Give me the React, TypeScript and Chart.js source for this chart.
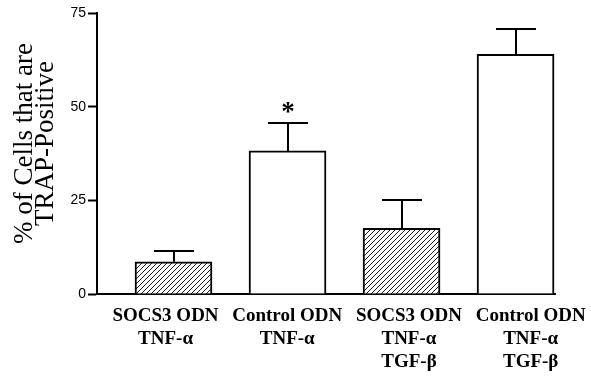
import React, { useEffect, useRef } from 'react';
import { Chart, registerables } from 'chart.js';

Chart.register(...registerables);

// ---- data ----
const categoryLabels: string[][] = [
  ['SOCS3 ODN', 'TNF-α'],
  ['Control ODN', 'TNF-α'],
  ['SOCS3 ODN', 'TNF-α', 'TGF-β'],
  ['Control ODN', 'TNF-α', 'TGF-β'],
];
const means = [8.6, 38.2, 17.5, 64.0];
const errors = [2.8, 7.4, 7.6, 6.6];
const hatched = [true, false, true, false];
const significant = [false, true, false, false];
const yTicks = [0, 25, 50, 75];
const yTitleLines = ['% of Cells that are', 'TRAP-Positive'];

export default function App() {
  const ref = useRef<HTMLCanvasElement | null>(null);

  useEffect(() => {
    const canvas = ref.current!;
    const ctx = canvas.getContext('2d')!;

    const tile = document.createElement('canvas');
    tile.width = 5;
    tile.height = 5;
    const tg = tile.getContext('2d')!;
    tg.fillStyle = '#fff';
    tg.fillRect(0, 0, 5, 5);
    tg.fillStyle = '#1a1a1a';
    for (let i = 0; i < 5; i++) tg.fillRect(i, 4 - i, 1, 1);
    const hatch = ctx.createPattern(tile, 'repeat')!;

    const errorPlugin = {
      id: 'errorBars',
      afterDatasetsDraw(chart: any) {
        const meta = chart.getDatasetMeta(0);
        const y = chart.scales.y;
        const c = chart.ctx;
        c.save();
        c.strokeStyle = '#000';
        c.fillStyle = '#000';
        c.lineWidth = 2;
        meta.data.forEach((bar: any, i: number) => {
          const top = Math.round(y.getPixelForValue(means[i] + errors[i]));
          const x = Math.round(bar.x);
          c.beginPath();
          c.moveTo(x, bar.y);
          c.lineTo(x, top);
          c.moveTo(x - 20, top);
          c.lineTo(x + 20, top);
          c.stroke();
          if (significant[i]) {
            c.font = 'bold 27px "Liberation Serif"';
            c.textAlign = 'center';
            c.textBaseline = 'alphabetic';
            const m = c.measureText('*');
            const cy = top - 15.5;
            const base = cy + (m.actualBoundingBoxAscent - m.actualBoundingBoxDescent) / 2;
            c.fillText('*', x, base);
          }
        });
        c.restore();
      },
    };

    const titlePlugin = {
      id: 'yTitle',
      afterDraw(chart: any) {
        const { chartArea } = chart;
        const c = chart.ctx;
        c.save();
        c.font = '27px "Liberation Serif"';
        c.fillStyle = '#000';
        c.textAlign = 'center';
        c.textBaseline = 'alphabetic';
        const cy = (chartArea.top + chartArea.bottom) / 2 - 10;
        const xs = [chartArea.left - 65, chartArea.left - 44];
        yTitleLines.forEach((line, i) => {
          c.save();
          c.translate(xs[i], cy);
          c.rotate(-Math.PI / 2);
          c.fillText(line, 0, 0);
          c.restore();
        });
        c.restore();
      },
    };

    const chart = new Chart(ctx, {
      type: 'bar',
      data: {
        datasets: [
          {
            data: means.map((v, i) => ({ x: i, y: v })),
            backgroundColor: hatched.map((h) => (h ? hatch : '#ffffff')),
            borderColor: '#000',
            borderWidth: 2,
            borderSkipped: 'start',
            barThickness: 77,
          } as any,
        ],
      },
      options: {
        animation: false,
        responsive: false,
        devicePixelRatio: 1,
        layout: { padding: { top: 13, right: 36, left: 0, bottom: 0 } },
        plugins: { legend: { display: false }, tooltip: { enabled: false } },
        scales: {
          x: {
            type: 'linear',
            min: -0.671,
            max: 3.346,
            bounds: 'data',
            offset: false,
            afterBuildTicks: (scale: any) => {
              scale.ticks = categoryLabels.map((_, i) => ({ value: -0.07 + i * 1.0675 }));
            },
            afterFit: (scale: any) => {
              scale.height = 83;
            },
            grid: { display: false, offset: false },
            border: { display: true, color: '#000', width: 2 },
            ticks: {
              autoSkip: false,
              maxRotation: 0,
              minRotation: 0,
              padding: 3,
              color: '#000',
              font: { family: '"Liberation Serif"', size: 19, weight: 'bold', lineHeight: 1.2 },
              callback: (_v: any, index: number) => categoryLabels[index],
            },
          },
          y: {
            min: 0,
            max: 75,
            afterBuildTicks: (scale: any) => {
              scale.ticks = yTicks.map((v) => ({ value: v }));
            },
            afterFit: (scale: any) => {
              scale.width = 97;
            },
            grid: {
              display: true,
              drawOnChartArea: false,
              drawTicks: true,
              tickLength: 9,
              tickWidth: 2,
              tickColor: '#000',
            },
            border: { display: true, color: '#000', width: 2 },
            ticks: {
              padding: 2,
              color: '#000',
              font: { family: '"Liberation Sans"', size: 14 },
            },
          },
        },
      } as any,
      plugins: [errorPlugin, titlePlugin],
    });

    return () => chart.destroy();
  }, []);

  return (
    <div style={{ position: 'fixed', left: 0, top: 0, width: 591, height: 377, background: '#fff' }}>
      <canvas ref={ref} width={591} height={377} style={{ display: 'block' }} />
    </div>
  );
}
